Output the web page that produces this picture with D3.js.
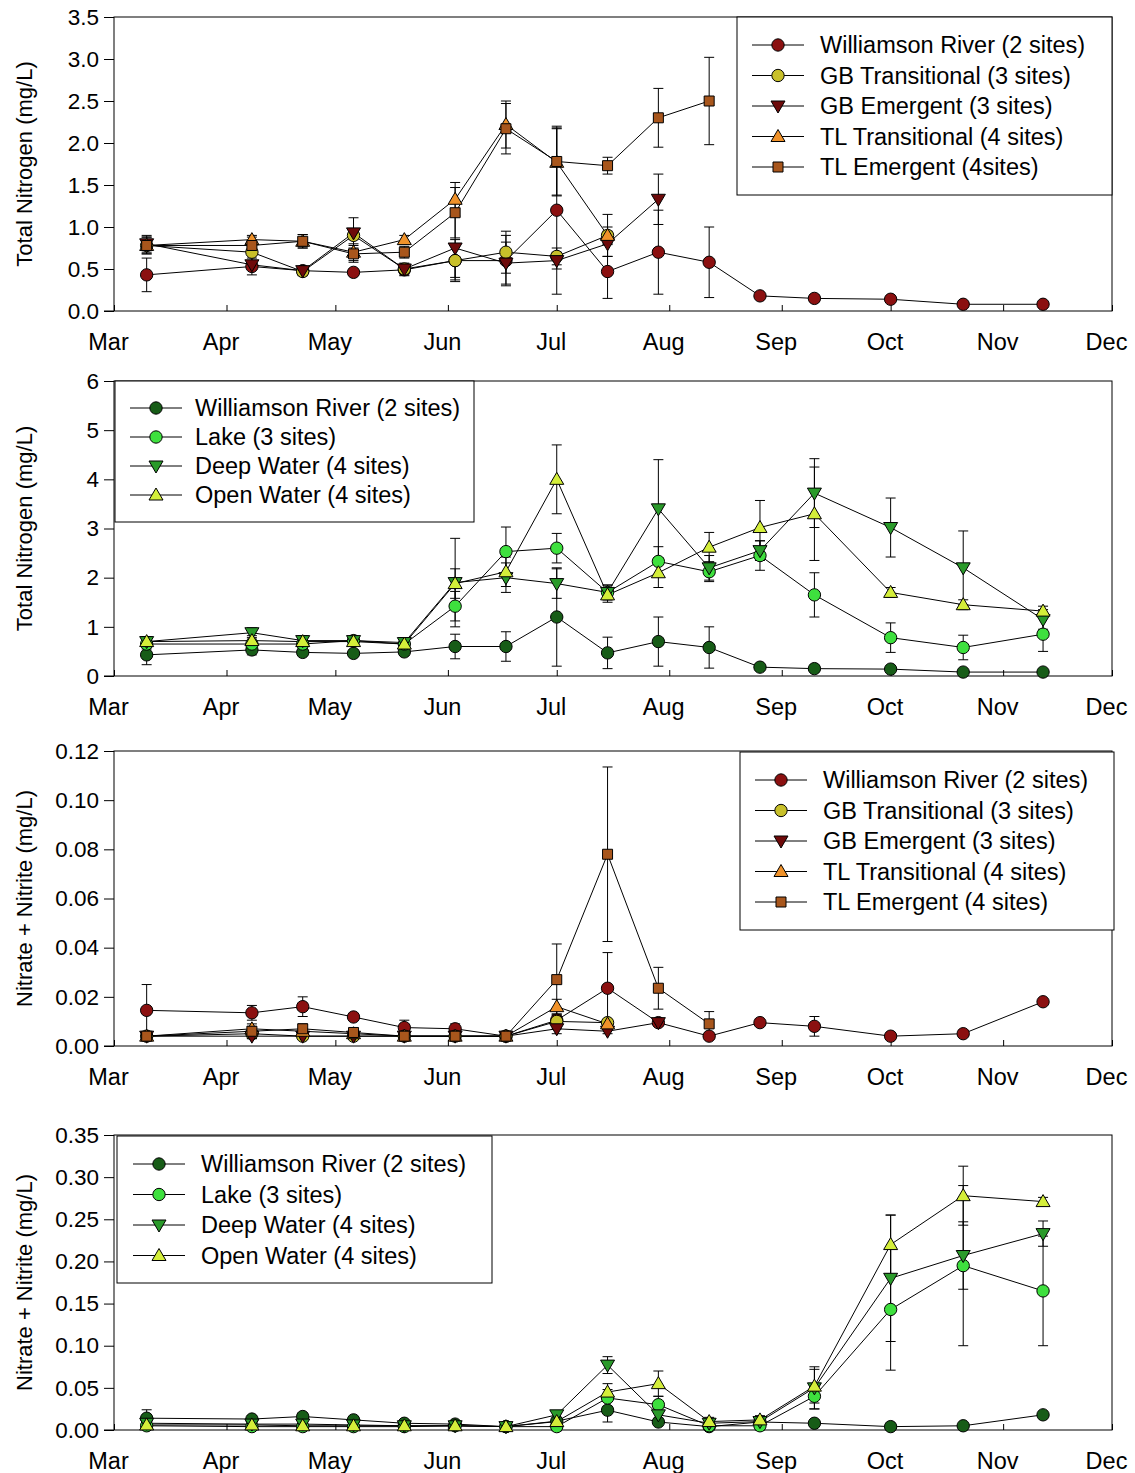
<!DOCTYPE html>
<meta charset="utf-8">
<style>
body{margin:0;background:#fff;font-family:Arial,"Liberation Sans",sans-serif;}
svg text{font-family:Arial,"Liberation Sans",sans-serif;}
</style>
<svg id="chart" width="1135" height="1473"></svg>
<script src="https://cdn.jsdelivr.net/npm/d3@7"></script>
<script>
// sample dates (same schedule for all series, series just stop early)
var dates = ['03-10','04-08','04-22','05-06','05-20','06-03','06-17','07-01','07-15','07-29','08-12','08-26','09-10','10-01','10-21','11-12']
var months = ['Mar','Apr','May','Jun','Jul','Aug','Sep','Oct','Nov','Dec']

// panel 1 - total nitrogen, wetland sites
var tnWR  = [0.43,0.53,0.48,0.46,0.49,0.6,0.6,1.2,0.47,0.7,0.58,0.18,0.15,0.14,0.08,0.08]
var tnWRe = [0.2,0.1,0.05,0.03,0.07,0.25,0.3,1.0,0.32,0.5,0.42,0.03,0.04,0.02,0.02,0.01]
var tnGBT  = [0.78,0.7,0.47,0.9,0.5,0.6,0.7,0.65,0.9]
var tnGBTe = [0.05,0.1,0.05,0.05,0.07,0.2,0.25,0.1,0.1]
var tnGBE  = [0.8,0.55,0.48,0.93,0.5,0.75,0.57,0.6,0.8,1.33]
var tnGBEe = [0.1,0.05,0.05,0.18,0.05,0.38,0.25,0.1,0.15,0.3]
var tnTLT  = [0.78,0.85,0.83,0.7,0.85,1.33,2.22,1.77,0.9]
var tnTLTe = [0.1,0.05,0.08,0.1,0.05,0.2,0.28,0.4,0.25]
var tnTLE  = [0.78,0.78,0.83,0.68,0.7,1.17,2.17,1.78,1.73,2.3,2.5]
var tnTLEe = [0.1,0.1,0.08,0.1,0.07,0.3,0.3,0.4,0.1,0.35,0.52]

// panel 2 - total nitrogen, lake sites
var tnLake  = [0.65,0.65,0.65,0.72,0.65,1.42,2.53,2.6,1.7,2.33,2.12,2.45,1.65,0.78,0.58,0.85]
var tnLakee = [0.1,0.1,0.1,0.05,0.1,0.3,0.5,0.3,0.15,0.3,0.2,0.3,0.45,0.3,0.25,0.35]
var tnDeep  = [0.7,0.88,0.72,0.72,0.68,1.9,2.0,1.88,1.7,3.4,2.2,2.55,3.72,3.02,2.2,1.15]
var tnDeepe = [0.1,0.1,0.1,0.05,0.1,0.9,0.3,0.3,0.15,1.0,0.25,0.2,0.7,0.6,0.75,0.2]
var tnOpen  = [0.7,0.72,0.7,0.7,0.65,1.88,2.12,4.0,1.65,2.1,2.62,3.02,3.3,1.7,1.45,1.32]
var tnOpene = [0.1,0.1,0.1,0.05,0.1,0.3,0.3,0.7,0.15,0.3,0.3,0.55,0.95,0.1,0.1,0.1]

// panel 3 - nitrate + nitrite, wetland sites
var nnWR  = [0.0145,0.0135,0.016,0.0118,0.0075,0.007,0.004,0.0105,0.0235,0.0095,0.004,0.0095,0.008,0.004,0.005,0.018]
var nnWRe = [0.0105,0.003,0.004,0.001,0.003,0.002,0.001,0.002,0.0145,0.001,0.001,0.001,0.004,0.0005,0.001,0.001]
var nnGBT  = [0.004,0.005,0.004,0.004,0.004,0.004,0.004,0.01,0.0095]
var nnGBTe = [0.001,0.001,0.001,0.001,0.001,0.001,0.001,0.003,0.001]
var nnGBE  = [0.004,0.004,0.004,0.004,0.004,0.004,0.004,0.007,0.006,0.0095]
var nnGBEe = [0.001,0.001,0.001,0.001,0.001,0.001,0.001,0.002,0.001,0.001]
var nnTLT  = [0.004,0.007,0.006,0.005,0.004,0.004,0.004,0.016,0.009]
var nnTLTe = [0.001,0.001,0.001,0.001,0.001,0.001,0.001,0.003,0.001]
var nnTLE  = [0.004,0.006,0.007,0.0055,0.004,0.004,0.004,0.027,0.078,0.0235,0.009]
var nnTLEe = [0.001,0.003,0.002,0.001,0.001,0.001,0.001,0.0145,0.0355,0.0085,0.005]

// panel 4 - nitrate + nitrite, lake sites
var nnWR2  = [0.014,0.013,0.016,0.012,0.008,0.007,0.004,0.0105,0.0235,0.0095,0.004,0.0095,0.008,0.004,0.005,0.018]
var nnWR2e = [0.01,0.004,0.004,0.002,0.002,0.001,0.001,0.002,0.014,0.002,0.002,0.002,0.003,0.001,0.001,0.001]
var nnLake  = [0.005,0.004,0.004,0.004,0.004,0.005,0.004,0.004,0.038,0.03,0.005,0.005,0.04,0.143,0.195,0.165]
var nnLakee = [.003,.002,.002,.002,.002,.002,.002,.005,.01,.01,.005,.005,.015,.072,.095,.065]
var nnDeep  = [0.008,0.007,0.007,0.006,0.005,0.005,0.004,0.018,0.077,0.018,0.008,0.01,0.05,0.18,0.207,0.233]
var nnDeepe = [.005,.003,.003,.003,.002,.002,.002,.005,.01,.01,.005,.005,.025,.075,.04,.015]
var nnOpen  = [0.006,0.006,0.005,0.005,0.005,0.005,0.004,0.01,0.045,0.055,0.01,0.012,0.052,0.22,0.278,0.271]
var nnOpene = [.005,.003,.003,.003,.002,.002,.002,.005,.01,.015,.005,.005,.02,.035,.035,.005]

var parse = d3.timeParse('%Y-%m-%d')
function dt(s){ return parse('2010-' + s) }

var st = {
  wr:  {sym: d3.symbolCircle,   fill: '#8b1010'},
  gbt: {sym: d3.symbolCircle,   fill: '#c8c02a'},
  gbe: {sym: 'down',            fill: '#6e0a0a'},
  tlt: {sym: 'up',              fill: '#f0922a'},
  tle: {sym: d3.symbolSquare,   fill: '#a8561c'},
  wrg: {sym: d3.symbolCircle,   fill: '#175c17'},
  lake:{sym: d3.symbolCircle,   fill: '#3ee03e'},
  deep:{sym: 'down',            fill: '#2a9a2a'},
  open:{sym: 'up',              fill: '#d4ee3a'}
}

var panels = [
  {top: 17, bottom: 311, max: 3.5, step: 0.5, fmt: '.1f', label: 'Total Nitrogen (mg/L)',
   legend: {x: 737, y: 17, w: 375, h: 178, lx: 752, tx: 820, row0: 45, dy: 30.5},
   series: [
    ['Williamson River (2 sites)', tnWR, tnWRe, 'wr'],
    ['GB Transitional (3 sites)', tnGBT, tnGBTe, 'gbt'],
    ['GB Emergent (3 sites)', tnGBE, tnGBEe, 'gbe'],
    ['TL Transitional (4 sites)', tnTLT, tnTLTe, 'tlt'],
    ['TL Emergent (4sites)', tnTLE, tnTLEe, 'tle']]},
  {top: 381, bottom: 676, max: 6, step: 1, fmt: 'd', label: 'Total Nitrogen (mg/L)',
   legend: {x: 115, y: 381, w: 359, h: 141, lx: 130, tx: 195, row0: 408, dy: 29},
   series: [
    ['Williamson River (2 sites)', tnWR, tnWRe, 'wrg'],
    ['Lake (3 sites)', tnLake, tnLakee, 'lake'],
    ['Deep Water (4 sites)', tnDeep, tnDeepe, 'deep'],
    ['Open Water (4 sites)', tnOpen, tnOpene, 'open']]},
  {top: 751, bottom: 1046, max: 0.12, step: 0.02, fmt: '.2f', label: 'Nitrate + Nitrite (mg/L)',
   legend: {x: 740, y: 752, w: 374, h: 178, lx: 755, tx: 823, row0: 780, dy: 30.5},
   series: [
    ['Williamson River (2 sites)', nnWR, nnWRe, 'wr'],
    ['GB Transitional (3 sites)', nnGBT, nnGBTe, 'gbt'],
    ['GB Emergent (3 sites)', nnGBE, nnGBEe, 'gbe'],
    ['TL Transitional (4 sites)', nnTLT, nnTLTe, 'tlt'],
    ['TL Emergent (4 sites)', nnTLE, nnTLEe, 'tle']]},
  {top: 1135, bottom: 1430, max: 0.35, step: 0.05, fmt: '.2f', label: 'Nitrate + Nitrite (mg/L)',
   legend: {x: 117, y: 1136, w: 375, h: 147, lx: 133, tx: 201, row0: 1164, dy: 30.5},
   series: [
    ['Williamson River (2 sites)', nnWR2, nnWR2e, 'wrg'],
    ['Lake (3 sites)', nnLake, nnLakee, 'lake'],
    ['Deep Water (4 sites)', nnDeep, nnDeepe, 'deep'],
    ['Open Water (4 sites)', nnOpen, nnOpene, 'open']]}
]

var svg = d3.select('#chart')
var left = 114, right = 1112

var x = d3.scaleTime().domain([dt('03-01'), dt('12-01')]).range([left, right])

function marker(g, key){
  var s = st[key], path
  if (s.sym === 'up') path = 'M0,-7L7,5L-7,5Z'
  else if (s.sym === 'down') path = 'M0,7L7,-5L-7,-5Z'
  else path = d3.symbol().type(s.sym).size(s.sym === d3.symbolSquare ? 100 : 120)()
  return g.append('path').attr('d', path).attr('fill', s.fill).attr('stroke', '#000').attr('stroke-width', 1)
}

panels.forEach(function(p){
  var y = d3.scaleLinear().domain([0, p.max]).range([p.bottom, p.top])
  var g = svg.append('g')

  var yt = d3.range(0, p.max + p.step / 2, p.step)
  g.append('g').attr('transform', 'translate(' + left + ',0)')
    .call(d3.axisLeft(y).tickValues(yt).tickSize(10).tickSizeOuter(0).tickFormat(d3.format(p.fmt)))
    .call(function(a){ a.select('.domain').remove(); a.selectAll('text').attr('font-size', 22.5).attr('fill', '#000').attr('dx', -2) })
  var xt = months.map(function(m, i){ return d3.timeMonth.offset(dt('03-01'), i) })
  g.append('g').attr('transform', 'translate(0,' + p.bottom + ')')
    .call(d3.axisBottom(x).tickValues(xt).tickSize(-6).tickSizeOuter(0).tickFormat(function(d, i){ return months[i] }))
    .call(function(a){ a.select('.domain').remove(); a.selectAll('text').attr('font-size', 23.5).attr('fill', '#000').attr('y', 39).attr('dy', 0).attr('dx', -6) })
  g.append('line').attr('x1', left - 10).attr('x2', left).attr('y1', p.bottom).attr('y2', p.bottom).attr('stroke', '#000')

  g.append('rect').attr('x', left).attr('y', p.top).attr('width', right - left).attr('height', p.bottom - p.top)
    .attr('fill', 'none').attr('stroke', '#000').attr('stroke-width', 1)

  g.append('text').attr('transform', 'translate(32,' + (p.top + p.bottom) / 2 + ') rotate(-90)')
    .attr('text-anchor', 'middle').attr('font-size', 22).text(p.label)

  var line = d3.line().x(function(d, i){ return x(dt(dates[i])) }).y(function(d){ return y(d) })

  p.series.forEach(function(s){
    var vals = s[1], errs = s[2]
    g.append('path').attr('d', line(vals)).attr('fill', 'none').attr('stroke', '#000').attr('stroke-width', 1)
    vals.forEach(function(v, i){
      var cx = x(dt(dates[i])), e = errs[i]
      var y0 = y(v - e), y1 = y(v + e)
      g.append('line').attr('x1', cx).attr('x2', cx).attr('y1', y0).attr('y2', y1).attr('stroke', '#000')
      ;[y0, y1].forEach(function(yy){
        g.append('line').attr('x1', cx - 5).attr('x2', cx + 5).attr('y1', yy).attr('y2', yy).attr('stroke', '#000')
      })
    })
  })
  p.series.forEach(function(s){
    s[1].forEach(function(v, i){
      marker(g, s[3]).attr('transform', 'translate(' + x(dt(dates[i])) + ',' + y(v) + ')')
    })
  })

  var L = p.legend
  g.append('rect').attr('x', L.x).attr('y', L.y).attr('width', L.w).attr('height', L.h)
    .attr('fill', '#fff').attr('stroke', '#000')
  p.series.forEach(function(s, i){
    var yy = L.row0 + i * L.dy
    g.append('line').attr('x1', L.lx).attr('x2', L.lx + 52).attr('y1', yy).attr('y2', yy).attr('stroke', '#000')
    marker(g, s[3]).attr('transform', 'translate(' + (L.lx + 26) + ',' + yy + ')')
    g.append('text').attr('x', L.tx).attr('y', yy).attr('dy', '0.36em').attr('font-size', 23.5).text(s[0])
  })
})
</script>
